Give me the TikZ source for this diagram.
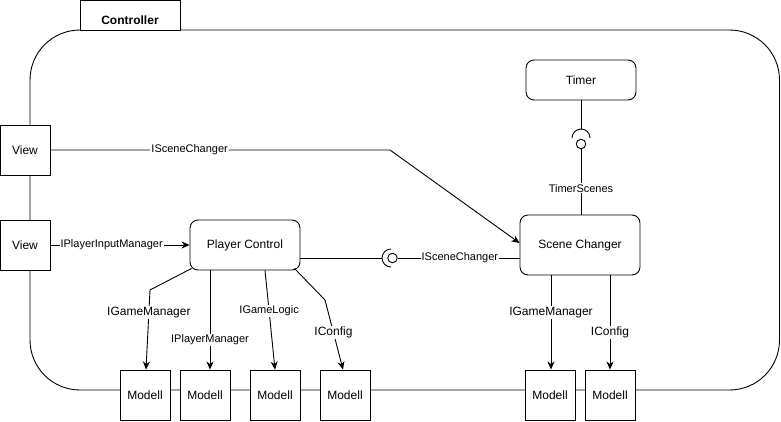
\documentclass[tikz,border=0pt]{standalone}
\usepackage{fontspec}
\setmainfont{Liberation Sans}
\usetikzlibrary{arrows.meta}
\begin{document}
\begin{tikzpicture}[x=1pt,y=-1pt,line width=0.9pt,
  box/.style={draw,fill=white,inner sep=0pt,minimum width=50pt,minimum height=50pt,font=\fontsize{12}{14}\selectfont},
  rbox/.style={draw,fill=white,rounded corners=8pt,inner sep=0pt,font=\fontsize{12}{14}\selectfont},
  lbl/.style={fill=white,inner sep=1pt,font=\fontsize{11}{13}\selectfont},
  lblb/.style={fill=white,inner sep=1pt,font=\fontsize{12}{14}\selectfont},
  arr/.style={-{Stealth[length=8pt,width=7pt,inset=2.5pt]}},
  ball/.style={draw,fill=white,circle,inner sep=0pt,minimum size=9.5pt}]
\useasboundingbox (0,0) rectangle (781,421);
% container
\draw[rounded corners=50pt] (30,30) rectangle (779.5,390);
\node[draw,fill=white,minimum width=100pt,minimum height=30pt,inner sep=0pt] (tab) at (130,15) {};
\node[font=\fontsize{12}{14}\selectfont\bfseries] (tabtxt) at (130,20) {Controller};
% nodes
\node[box] (view1) at (25,150) {View};
\node[box] (view2) at (25,245) {View};
\node[rbox,minimum width=110pt,minimum height=50pt] (pc) at (245,245) {Player Control};
\node[rbox,minimum width=110pt,minimum height=40pt] (timer) at (581,80) {Timer};
\node[rbox,minimum width=120pt,minimum height=60pt] (sc) at (580,245) {Scene Changer};
\node[box] (m1) at (145,395) {Modell};
\node[box] (m2) at (205,395) {Modell};
\node[box] (m3) at (275,395) {Modell};
\node[box] (m4) at (345,395) {Modell};
\node[box] (m5) at (550,395) {Modell};
\node[box] (m6) at (610,395) {Modell};
% View -> Scene Changer
\coordinate (k1) at (390,150);
\draw[arr] (view1.east) -- node[lbl,pos=0.41]{ISceneChanger} (k1) -- ([yshift=2pt]sc.west);
% View -> Player Control
\draw[arr] (view2.east) -- node[lbl,pos=0.44]{IPlayerInputManager} (pc.west);
% Player Control -- socket -- Scene Changer
\coordinate (s2) at (382,258);
\draw ([yshift=-13pt]pc.east) -- (s2);
\draw (391,249) arc[start angle=90,end angle=270,radius=9pt];
\node[ball] (b2) at (392.5,258) {};
\draw (b2.east) -- node[lbl,pos=0.51]{ISceneChanger} ([yshift=-13pt]sc.west);
% Timer -- socket -- Scene Changer
\coordinate (s1) at (581,129);
\draw (timer.south) -- (s1);
\draw (590,138) arc[start angle=0,end angle=180,radius=9pt];
\node[ball] (b1) at (581,144) {};
\draw (b1.south) -- node[lbl,pos=0.6]{TimerScenes} ([xshift=1pt]sc.north);
% Player Control -> Modells
\coordinate (c1) at (150,290);
\draw[arr] ([shift={(2pt,2pt)}]pc.south west) -- (c1) -- node[lblb,pos=0.28]{IGameManager} ([xshift=1pt]m1.north);
\draw[arr] ([xshift=-35pt]pc.south) -- node[lbl,pos=0.7]{IPlayerManager} ([xshift=5pt]m2.north);
\draw[arr] ([xshift=20pt]pc.south) -- node[lbl,pos=0.41]{IGameLogic} (m3.north);
\coordinate (c4) at (325,300);
\draw[arr] ([shift={(-6pt,2pt)}]pc.south east) -- (c4) -- node[lblb,pos=0.47]{IConfig} ([xshift=-2pt]m4.north);
% Scene Changer -> Modells
\draw[arr] ([xshift=-29pt]sc.south) -- node[lblb,pos=0.39]{IGameManager} ([xshift=1pt]m5.north);
\draw[arr] ([xshift=30pt]sc.south) -- node[lblb,pos=0.61]{IConfig} (m6.north);
\end{tikzpicture}
\end{document}
